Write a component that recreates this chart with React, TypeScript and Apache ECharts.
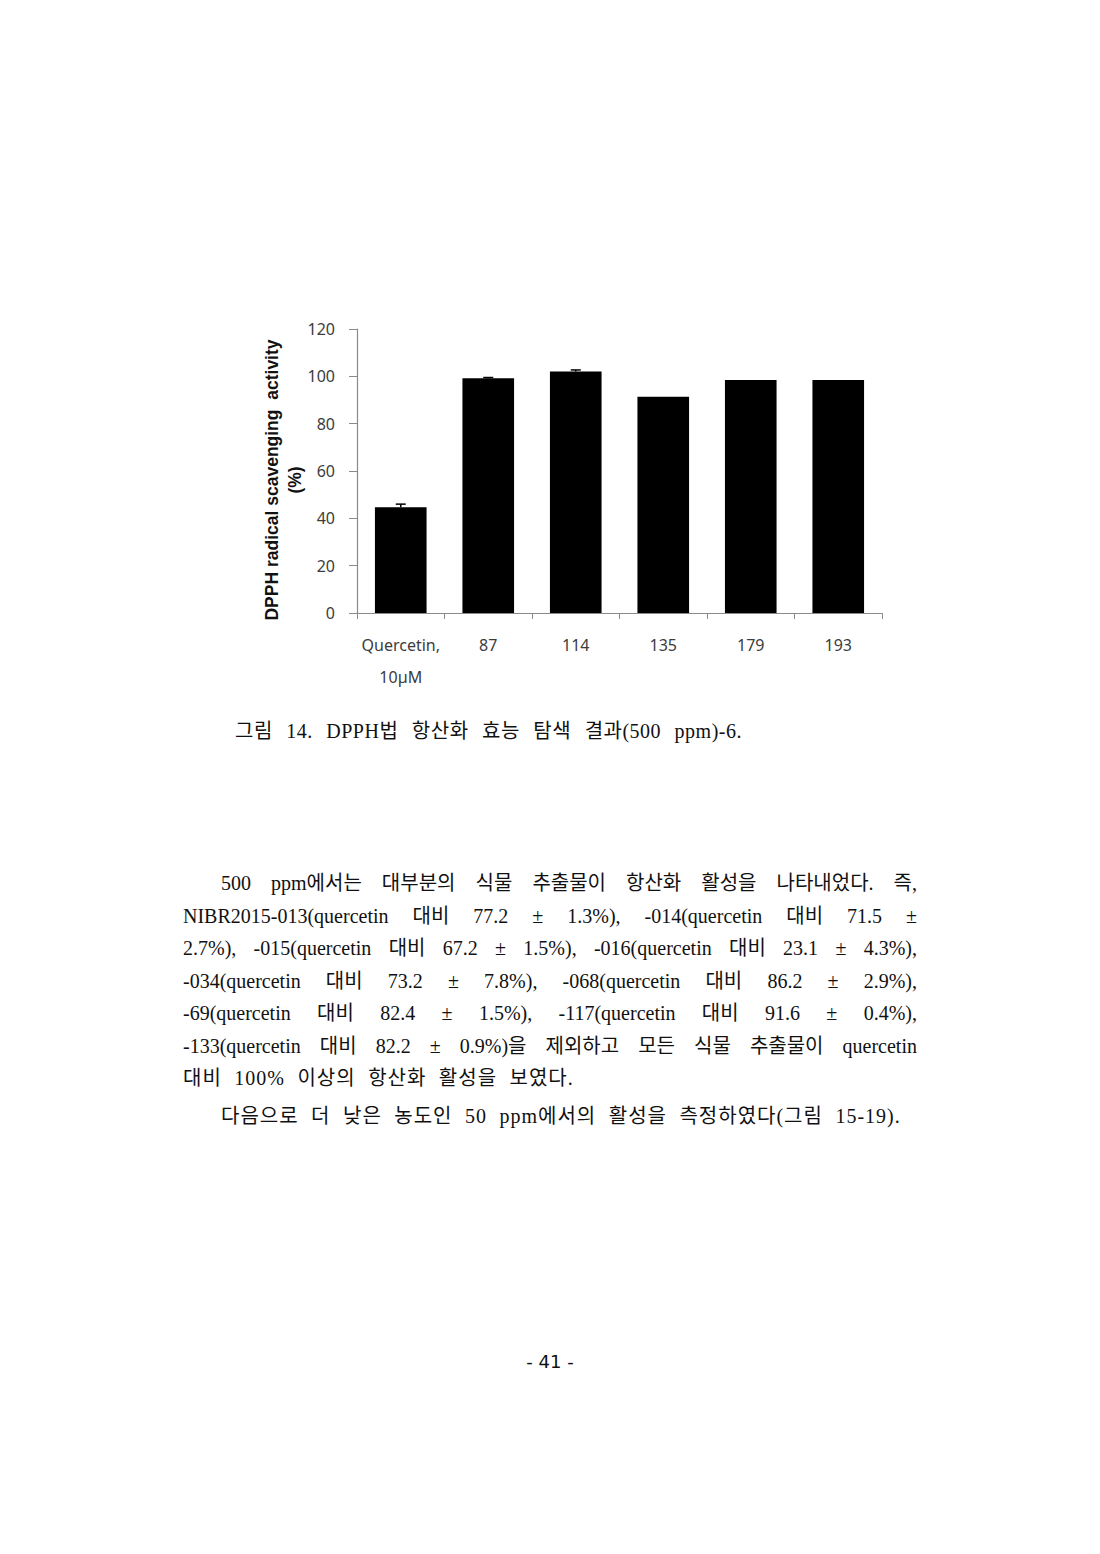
import { useEffect, useRef } from "react"
import * as echarts from "echarts"

const categories = ["Quercetin,\n10µM", "87", "114", "135", "179", "193"]
const activity = [44.7, 99.2, 102.0, 91.4, 98.4, 98.4]
const errors = [1.3, 0.3, 0.7, 0, 0, 0]
const yTicks = { min: 0, max: 120, interval: 20 }

const caption = "그림 14. DPPH법 항산화 효능 탐색 결과(500 ppm)-6."
const paragraphLines = [
  "500 ppm에서는 대부분의 식물 추출물이 항산화 활성을 나타내었다. 즉,",
  "NIBR2015-013(quercetin 대비 77.2 ± 1.3%), -014(quercetin 대비 71.5 ±",
  "2.7%), -015(quercetin 대비 67.2 ± 1.5%), -016(quercetin 대비 23.1 ± 4.3%),",
  "-034(quercetin 대비 73.2 ± 7.8%), -068(quercetin 대비 86.2 ± 2.9%),",
  "-69(quercetin 대비 82.4 ± 1.5%), -117(quercetin 대비 91.6 ± 0.4%),",
  "-133(quercetin 대비 82.2 ± 0.9%)을 제외하고 모든 식물 추출물이 quercetin",
  "대비 100% 이상의 항산화 활성을 보였다.",
]
const closingLine = "다음으로 더 낮은 농도인 50 ppm에서의 활성을 측정하였다(그림 15-19)."
const pageNumber = "- 41 -"

function DpphChart() {
  const chartRef = useRef<HTMLDivElement>(null)

  useEffect(() => {
    if (!chartRef.current) return
    const chart = echarts.init(chartRef.current, null, { renderer: "svg" })

    const labelFont = "'Noto Sans', 'Open Sans', sans-serif"
    const axisGray = "#8a8a8a"

    chart.setOption({
      animation: false,
      grid: { left: 107, right: 18, top: 19, bottom: 87, outerBoundsMode: "none", containLabel: false },
      xAxis: {
        type: "category",
        data: categories,
        boundaryGap: true,
        axisLine: { lineStyle: { color: axisGray, width: 1.2 } },
        axisTick: { show: true, length: 6, alignWithLabel: false, lineStyle: { color: axisGray } },
        axisLabel: {
          color: "#3c3c3c",
          fontSize: 16,
          fontFamily: labelFont,
          lineHeight: 32,
          margin: 16,
          interval: 0,
        },
      },
      yAxis: {
        type: "value",
        min: yTicks.min,
        max: yTicks.max,
        interval: yTicks.interval,
        name: "DPPH radical scavenging  activity\n(%)",
        nameLocation: "middle",
        nameRotate: 90,
        nameGap: 51,
        nameMoveOverlap: false,
        nameTextStyle: {
          fontSize: 17.5,
          fontWeight: "bold",
          fontFamily: "'Liberation Sans', Arial, sans-serif",
          color: "#111",
          lineHeight: 23,
          padding: [0, 0, 0, -18],
        },
        axisLine: { show: true, lineStyle: { color: axisGray, width: 1.2 } },
        axisTick: { show: true, length: 8, lineStyle: { color: axisGray } },
        splitLine: { show: false },
        axisLabel: { color: "#3c3c3c", fontSize: 16, fontFamily: labelFont, margin: 22 },
      },
      series: [
        {
          type: "bar",
          data: activity,
          barWidth: "59%",
          itemStyle: { color: "#000" },
        },
        {
          type: "custom",
          data: activity.map((v, i) => [i, v, errors[i]]),
          encode: { x: 0, y: 1 },
          z: 3,
          renderItem: (_params: any, api: any) => {
            const i = api.value(0)
            const v = api.value(1)
            const e = api.value(2)
            if (!e) return null
            const base = api.coord([i, v])
            const top = api.coord([i, v + e])
            const half = 5
            const style = { stroke: "#000", lineWidth: 1.5 }
            return {
              type: "group",
              children: [
                { type: "line", shape: { x1: base[0], y1: base[1], x2: top[0], y2: top[1] }, style },
                { type: "line", shape: { x1: top[0] - half, y1: top[1], x2: top[0] + half, y2: top[1] }, style },
              ],
            }
          },
        },
      ],
    })

    return () => chart.dispose()
  }, [])

  return (
    <div
      ref={chartRef}
      style={{ position: "absolute", left: 250, top: 310, width: 650, height: 390 }}
    />
  )
}

export default function App() {
  const serif = "'Liberation Serif', 'Times New Roman', 'Noto Sans CJK KR', serif"
  const lineStyle = (top: number, justify: boolean, indent = 0): React.CSSProperties => ({
    position: "absolute",
    left: 183 + indent,
    top,
    width: 734 - indent,
    height: 32,
    lineHeight: "32px",
    fontSize: 20,
    whiteSpace: justify ? "normal" : "nowrap",
    textAlign: justify ? "justify" : "left",
    textAlignLast: justify ? "justify" : "left",
    letterSpacing: justify ? 0 : 1,
    wordSpacing: justify ? 0 : 6.5,
  })

  return (
    <div
      style={{
        position: "absolute",
        left: 0,
        top: 0,
        width: 1100,
        height: 1554,
        background: "#fff",
        color: "#111",
        fontFamily: serif,
        overflow: "hidden",
      }}
    >
      <DpphChart />
      <div
        style={{
          position: "absolute",
          left: 235,
          top: 715,
          fontSize: 20,
          lineHeight: "32px",
          letterSpacing: 0.5,
          wordSpacing: 8,
          whiteSpace: "nowrap",
        }}
      >
        {caption}
      </div>
      {paragraphLines.map((line, i) => (
        <div key={i} style={lineStyle(867 + i * 32.5, i < paragraphLines.length - 1, i === 0 ? 38 : 0)}>
          {line}
        </div>
      ))}
      <div style={lineStyle(1100, false, 38)}>{closingLine}</div>
      <div
        style={{
          position: "absolute",
          left: 0,
          width: 1100,
          top: 1348,
          textAlign: "center",
          fontSize: 18,
          fontFamily: "'DejaVu Sans', sans-serif",
          lineHeight: "28px",
        }}
      >
        {pageNumber}
      </div>
    </div>
  )
}
